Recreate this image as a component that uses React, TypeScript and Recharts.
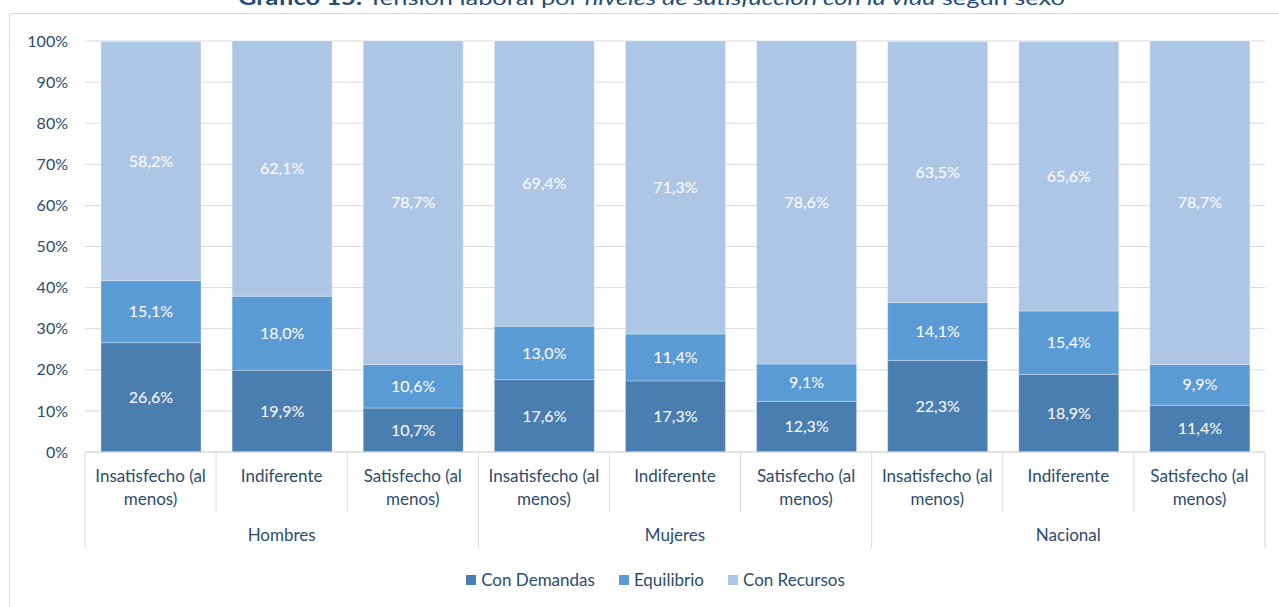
import { BarChart, Bar, XAxis, YAxis, CartesianGrid, Legend, LabelList } from 'recharts';

const groups = ['Hombres', 'Mujeres', 'Nacional'];
const levels = ['Insatisfecho (al menos)', 'Indiferente', 'Satisfecho (al menos)'];
const levelLines: Record<string, string[]> = {
    'Insatisfecho (al menos)': ['Insatisfecho (al', 'menos)'],
    Indiferente: ['Indiferente'],
    'Satisfecho (al menos)': ['Satisfecho (al', 'menos)'],
};

const conDemandas = [26.6, 19.9, 10.7, 17.6, 17.3, 12.3, 22.3, 18.9, 11.4];
const equilibrio = [15.1, 18.0, 10.6, 13.0, 11.4, 9.1, 14.1, 15.4, 9.9];
const conRecursos = [58.2, 62.1, 78.7, 69.4, 71.3, 78.6, 63.5, 65.6, 78.7];
const yTicks = [0, 10, 20, 30, 40, 50, 60, 70, 80, 90, 100];

const series = [
    { key: 'demandas', name: 'Con Demandas', color: '#4a7eb0' },
    { key: 'equilibrio', name: 'Equilibrio', color: '#5b9bd5' },
    { key: 'recursos', name: 'Con Recursos', color: '#adc6e6' },
];

const data = conDemandas.map((v, i) => ({
    id: i,
    group: groups[Math.floor(i / 3)],
    level: levels[i % 3],
    demandas: v,
    equilibrio: equilibrio[i],
    recursos: conRecursos[i],
}));

const W = 1279;
const H = 607;
const M = { top: 41, right: 14, bottom: 31, left: 0 };
const Y_W = 85;
const X_H = 100;
const BAND = (W - M.left - M.right - Y_W) / data.length;
const AXIS_Y = H - M.bottom - X_H - 24;

const FONT = 'Lato, "Open Sans", sans-serif';
const TEXT = '#2b4c6f';
const GRID = '#d9d9d9';

const fmt = (v: any) => `${Number(v).toFixed(1).replace('.', ',')}%`;

const CategoryTick = ({ x, payload, index }: any) => {
    const row = data[payload.value];
    const lines = levelLines[row.level];
    const left = x - BAND / 2;
    const groupStart = index % 3 === 0;
    return (
        <g>
            <line x1={left} x2={left} y1={AXIS_Y} y2={AXIS_Y + (groupStart ? 96 : 60)} stroke={GRID} />
            {index === data.length - 1 && (
                <line x1={x + BAND / 2} x2={x + BAND / 2} y1={AXIS_Y} y2={AXIS_Y + 96} stroke={GRID} />
            )}
            {lines.map((l, k) => (
                <text key={k} x={x} y={AXIS_Y + 30 + k * 23} textAnchor="middle" fill={TEXT} fontSize={17} fontFamily={FONT}>
                    {l}
                </text>
            ))}
            {index % 3 === 1 && (
                <text x={x} y={AXIS_Y + 89} textAnchor="middle" fill={TEXT} fontSize={17} fontFamily={FONT}>
                    {row.group}
                </text>
            )}
        </g>
    );
};

const LegendContent = () => (
    <div style={{ display: 'flex', justifyContent: 'center', gap: 24, fontFamily: FONT, fontSize: 17, color: TEXT, paddingLeft: 46 }}>
        {series.map((s) => (
            <div key={s.key} style={{ display: 'flex', alignItems: 'center' }}>
                <span style={{ width: 10, height: 10, background: s.color, marginRight: 5, display: 'inline-block' }} />
                {s.name}
            </div>
        ))}
    </div>
);

export default function App() {
    return (
        <div style={{ position: 'fixed', left: 0, top: 0, width: W, height: H, overflow: 'hidden', background: '#fff' }}>
            <div style={{ position: 'absolute', left: 9, top: 13, width: W, height: H, border: `1px solid ${GRID}` }} />
            <svg style={{ position: 'absolute', left: 0, top: 0 }} width={W} height={20}>
                <text x={238} y={5} textLength={827} lengthAdjust="spacingAndGlyphs" fontSize={20} fontFamily={FONT} fill="#1f4e79">
                    <tspan fontWeight="bold">Gráfico 15:</tspan>
                    <tspan> Tensión laboral por </tspan>
                    <tspan fontStyle="italic">niveles de satisfacción con la vida</tspan>
                    <tspan> según sexo</tspan>
                </text>
            </svg>
            <div style={{ position: 'absolute', left: 0, top: 0 }}>
                <BarChart width={W} height={H} data={data} margin={M} barSize={100}>
                    <CartesianGrid vertical={false} stroke={GRID} />
                    <XAxis
                        dataKey="id"
                        height={X_H}
                        interval={0}
                        axisLine={{ stroke: GRID }}
                        tickLine={false}
                        tick={<CategoryTick />}
                    />
                    <YAxis
                        width={Y_W}
                        domain={[0, 100]}
                        ticks={yTicks}
                        tickFormatter={(v) => `${v}%`}
                        axisLine={false}
                        tickLine={false}
                        tickMargin={11}
                        tick={{ fill: TEXT, fontSize: 16, fontFamily: FONT }}
                    />
                    <Legend content={<LegendContent />} wrapperStyle={{ top: 569, height: 24 }} />
                    {series.map((s) => (
                        <Bar key={s.key} dataKey={s.key} name={s.name} stackId="a" fill={s.color} stroke="#ffffff" strokeWidth={0.5} strokeOpacity={0.6} isAnimationActive={false}>
                            <LabelList dataKey={s.key} position="center" formatter={fmt} fill="#ffffff" fontSize={16} fontFamily={FONT} />
                        </Bar>
                    ))}
                </BarChart>
            </div>
        </div>
    );
}
